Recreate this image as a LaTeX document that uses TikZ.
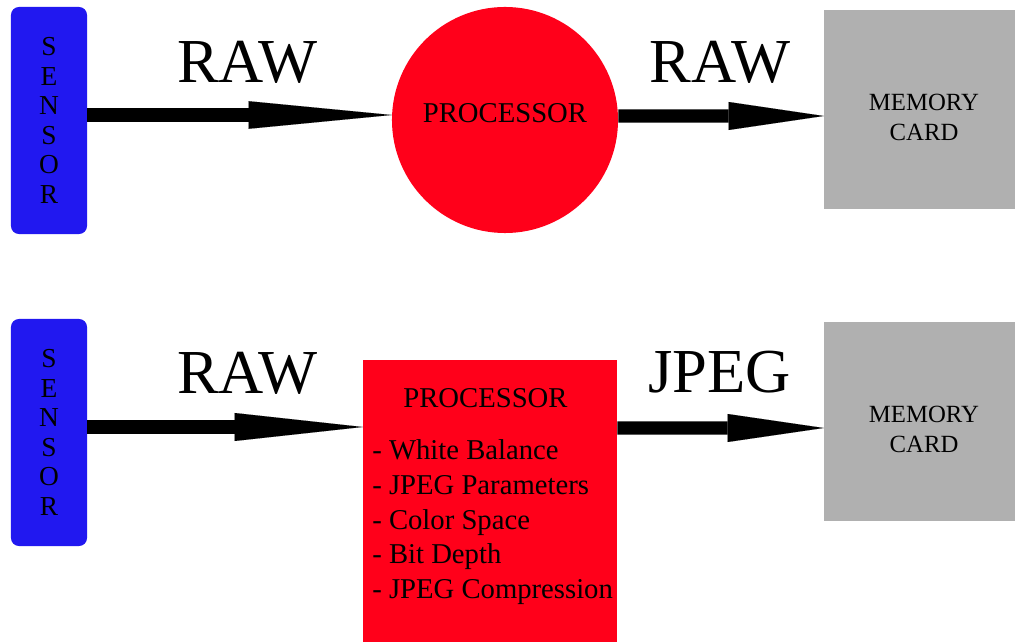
\documentclass[tikz,border=0pt]{standalone}
\usepackage{fontspec}
\setmainfont{Liberation Serif}
\usetikzlibrary{positioning, arrows.meta, calc}
\definecolor{SensorColor}{RGB}{33,24,240}
\definecolor{ProcessorColor}{RGB}{255,0,26}
\definecolor{CardColor}{RGB}{176,176,176}
\tikzset{
  sensor/.style={fill=SensorColor, rectangle, rounded corners=0.2cm, minimum width=1.9cm, minimum height=5.675cm, inner sep=0pt, align=center, font=\fontsize{19.5}{21}\selectfont},
  chip/.style={fill=ProcessorColor, circle, minimum size=5.65cm, inner sep=0pt},
  chipbox/.style={fill=ProcessorColor, rectangle, minimum width=6.35cm, minimum height=8.5cm, inner sep=0pt},
  card/.style={fill=CardColor, rectangle, minimum width=5cm, minimum height=4.975cm, inner sep=0pt},
  bigword/.style={font=\fontsize{44.5}{44.5}\selectfont, anchor=base, inner sep=0pt},
  cardword/.style={font=\fontsize{17.6}{21.3}\selectfont, align=center, inner sep=0pt},
  chipword/.style={font=\fontsize{20.4}{24.5}\selectfont, inner sep=0pt},
  flow/.style={line width=0.33cm, black}
}

\begin{document}
\begin{tikzpicture}[x=0.025cm, y=-0.025cm]
  \useasboundingbox (0,0) rectangle (1015,642);

  % RAW workflow
  \node[sensor] (s1) at (49,120.5) {S\\E\\N\\S\\O\\R};
  \node[chip, label={[name=p1txt, chipword, yshift=0.175cm]center:PROCESSOR}] (p1) at (505,120) {};
  \node[card, label={[name=m1txt, cardword, yshift=-0.21cm]center:MEMORY\\CARD}] (m1) at (924,109.5) {};

  \draw[flow, -{Triangle[length=3.575cm, width=0.69cm, line width=0.01pt]}] ($(s1.east)+(0,-5.5)$) -- ($(p1.west)+(0,-5)$);
  \draw[flow, -{Triangle[length=2.375cm, width=0.7cm, line width=0.01pt]}] ($(p1.east)+(0,-4)$) -- ($(m1.west)+(0,6.5)$);
  \node[bigword] (raw1) at (247.5,83) {RAW};
  \node[bigword] (raw2) at (720,83) {RAW};

  % JPEG workflow
  \node[sensor] (s2) at (49,432.5) {S\\E\\N\\S\\O\\R};
  \node[chipbox] (p2) at (490,530) {};
  \node[card, label={[name=m2txt, cardword, yshift=-0.21cm]center:MEMORY\\CARD}] (m2) at (924,421.5) {};

  \draw[flow, -{Triangle[length=3.2cm, width=0.7cm, line width=0.01pt]}] ($(s2.east)+(0,-5.5)$) -- ($(p2.west)+(0,-103)$);
  \draw[flow, -{Triangle[length=2.4cm, width=0.7cm, line width=0.01pt]}] ($(p2.east)+(0,-102)$) -- ($(m2.west)+(0,6.5)$);
  \node[bigword] (raw3) at (247.5,394) {RAW};
  \node[bigword] (jpeg) at (719.5,393) {JPEG};

  % processor settings
  \node[chipword, anchor=base] (p2txt) at (485.5,408) {PROCESSOR};
  \foreach \setting [count=\i from 0] in {White Balance, JPEG Parameters, Color Space, Bit Depth, JPEG Compression}
    \node[chipword, anchor=base west] (set\i) at (372,460+34.6*\i) {- \setting};
\end{tikzpicture}
\end{document}
